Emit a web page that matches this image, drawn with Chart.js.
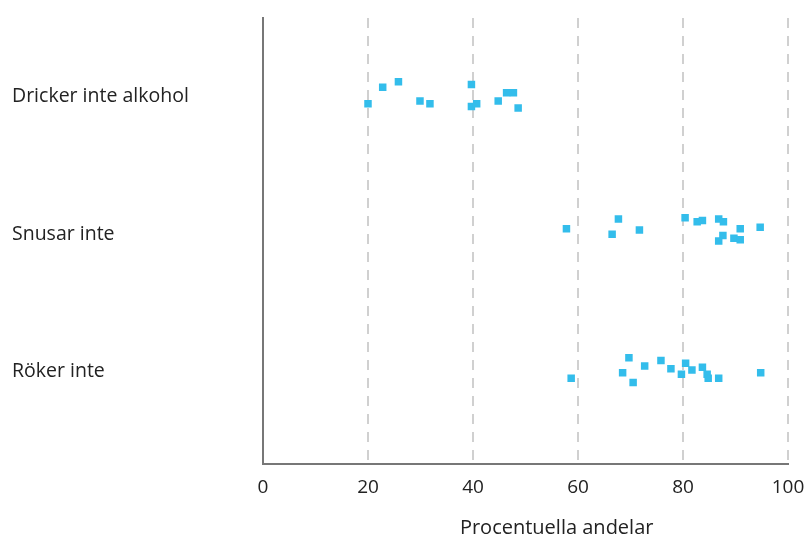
<!DOCTYPE html>
<html>
<head>
<meta charset="utf-8">
<script src="https://cdn.jsdelivr.net/npm/chart.js@4"></script>
<style>
  html, body { margin: 0; padding: 0; background: #fff; }
  #wrap { width: 806px; height: 541px; }
</style>
</head>
<body>
<div id="wrap"><canvas id="chart"></canvas></div>
<script>
// categories, bottom to top (y = 1, 2, 3)
var categories = ['Röker inte', 'Snusar inte', 'Dricker inte alkohol'];
var xTicks = [0, 20, 40, 60, 80, 100];

// percentages per group, with the vertical jitter
var rokerValues   = [58.7, 69.7, 68.5, 70.5, 72.7, 75.8, 77.7, 79.7, 80.5, 81.7, 83.7, 84.6, 84.8, 86.8, 94.8];
var rokerJitter   = [-0.05, 0.10, -0.01, -0.08, 0.04, 0.08, 0.02, -0.02, 0.06, 0.01, 0.03, -0.02, -0.05, -0.05, -0.01];

var snusarValues  = [57.8, 67.7, 66.5, 71.7, 80.4, 82.7, 83.7, 86.8, 87.7, 87.6, 86.8, 90.9, 89.7, 90.9, 94.7];
var snusarJitter  = [0.04, 0.11, 0.00, 0.03, 0.12, 0.09, 0.10, 0.11, 0.09, -0.01, -0.05, 0.04, -0.03, -0.04, 0.05];

var drickerValues = [20.0, 22.8, 25.8, 29.9, 31.8, 39.7, 39.7, 40.7, 44.8, 46.4, 47.7, 48.6];
var drickerJitter = [-0.05, 0.07, 0.11, -0.03, -0.05, 0.09, -0.07, -0.05, -0.03, 0.03, 0.03, -0.08];

function toPoints(values, jitter, row) {
    return values.map(function(v, i) {
        return { x: v, y: row + jitter[i] };
    });
}

var points = []
    .concat(toPoints(rokerValues, rokerJitter, 1))
    .concat(toPoints(snusarValues, snusarJitter, 2))
    .concat(toPoints(drickerValues, drickerJitter, 3));

var fontFamily = "'Open Sans', 'Noto Sans', sans-serif";

new Chart(document.getElementById('chart'), {
    type: 'scatter',
    data: {
        datasets: [{
            data: points,
            pointStyle: 'rect',
            pointRadius: 5.3,
            pointHoverRadius: 5.3,
            backgroundColor: '#33bdeb',
            borderWidth: 0
        }]
    },
    options: {
        responsive: true,
        maintainAspectRatio: false,
        animation: false,
        layout: { padding: { left: 12, right: 18, top: 18, bottom: 1 } },
        plugins: {
            legend: { display: false },
            tooltip: { enabled: false }
        },
        scales: {
            x: {
                type: 'linear',
                min: 0,
                max: 100,
                afterBuildTicks: function(axis) {
                    axis.ticks = xTicks.map(function(v) { return { value: v }; });
                },
                // let the "100" label hang over the right edge like the original
                afterFit: function(axis) { axis.paddingRight = 0; },
                border: { display: true, color: '#777777', width: 2, dash: [10, 8] },
                grid: {
                    drawTicks: false,
                    lineWidth: 2,
                    color: function(ctx) {
                        return ctx.tick && ctx.tick.value === 0 ? 'rgba(0,0,0,0)' : '#d0d0d0';
                    }
                },
                ticks: { color: '#222', font: { family: fontFamily, size: 19 }, padding: 12 },
                title: {
                    display: true,
                    // title sits a bit right of centre in the original
                    text: '\u00a0'.repeat(12) + 'Procentuella andelar',
                    color: '#222',
                    font: { family: fontFamily, size: 20 },
                    padding: { top: 5, bottom: 0 }
                }
            },
            y: {
                type: 'linear',
                min: 0.324,
                max: 3.575,
                afterBuildTicks: function(axis) {
                    axis.ticks = [1, 2, 3].map(function(v) { return { value: v }; });
                },
                afterFit: function(axis) { axis.width = 251; },
                border: { display: true, color: '#777777', width: 2 },
                grid: { display: false, drawTicks: false },
                ticks: {
                    color: '#222',
                    font: { family: fontFamily, size: 19.5 },
                    crossAlign: 'far',
                    callback: function(v) { return categories[Math.round(v) - 1]; }
                }
            }
        }
    }
});
</script>
</body>
</html>
